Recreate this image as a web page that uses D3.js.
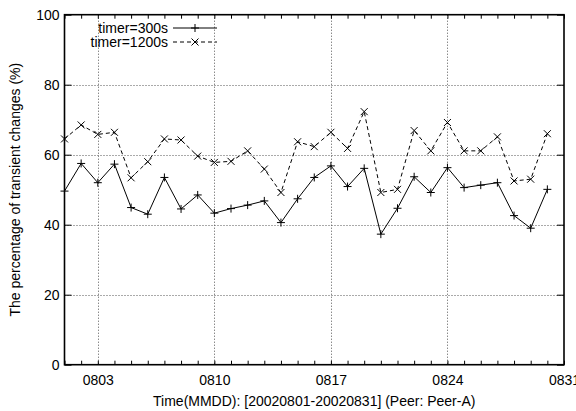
<!DOCTYPE html>
<html>
<head>
<meta charset="utf-8">
<script src="https://cdn.jsdelivr.net/npm/d3@7"></script>
<style>
  body { margin: 0; background: #fff; }
  text { font-family: "Liberation Sans", Arial, sans-serif; fill: #000; }
</style>
</head>
<body>
<div id="chart"></div>
<script>
// days of August 2002
let days = d3.range(1, 31);
let timer300 = [49.6, 57.5, 52.0, 57.3, 44.9, 43.0, 53.5, 44.5, 48.5, 43.3,
                44.6, 45.6, 46.8, 40.6, 47.4, 53.5, 56.8, 50.9, 56.1, 37.3,
                44.7, 53.7, 49.2, 56.3, 50.6, 51.3, 52.0, 42.6, 39.0, 50.1];
let timer1200 = [64.5, 68.5, 65.8, 66.4, 53.4, 58.0, 64.5, 64.2, 59.6, 57.8,
                 58.1, 61.1, 55.9, 49.2, 63.7, 62.3, 66.4, 61.8, 72.3, 49.2,
                 50.1, 66.9, 61.1, 69.2, 61.1, 61.1, 65.1, 52.5, 53.0, 66.0];
let xTicks = [3, 10, 17, 24, 31];
let xTickLabels = ["0803", "0810", "0817", "0824", "0831"];
let yTicks = [0, 20, 40, 60, 80, 100];

let width = 576, height = 411;
let pLeft = 64.5, pRight = 564, pTop = 14.7, pBottom = 364.7;
let fontSize = 14;

let svg = d3.select("#chart").append("svg")
    .attr("width", width)
    .attr("height", height);

let x = d3.scaleLinear().domain([1, 31]).range([pLeft, pRight]);
let y = d3.scaleLinear().domain([0, 100]).range([pBottom, pTop]);

//grid lines
let grid = svg.append("g")
    .attr("stroke", "#555")
    .attr("stroke-width", 1)
    .attr("stroke-dasharray", "1,2");
grid.selectAll(".gx")
    .data(xTicks.filter(d => d < 31))
    .join("line")
    .attr("x1", d => Math.round(x(d)) + 0.5).attr("x2", d => Math.round(x(d)) + 0.5)
    .attr("y1", pTop).attr("y2", pBottom);
grid.selectAll(".gy")
    .data(yTicks.filter(d => d > 0 && d < 100))
    .join("line")
    .attr("x1", pLeft).attr("x2", pRight)
    .attr("y1", d => Math.round(y(d)) + 0.5).attr("y2", d => Math.round(y(d)) + 0.5);

//axes, gnuplot style: ticks inward on every side
let minorDays = d3.range(1, 32);
svg.append("g")
    .attr("transform", `translate(0,${pBottom})`)
    .call(d3.axisBottom(x).tickValues(minorDays).tickSize(-4).tickFormat(""))
    .call(g => g.select(".domain").remove());
svg.append("g")
    .attr("transform", `translate(0,${pTop})`)
    .call(d3.axisTop(x).tickValues(minorDays).tickSize(-4).tickFormat(""))
    .call(g => g.select(".domain").remove());
svg.append("g")
    .attr("transform", `translate(0,${pBottom})`)
    .call(d3.axisBottom(x).tickValues(xTicks).tickSize(0).tickPadding(10)
        .tickFormat((d, i) => xTickLabels[i]))
    .call(g => g.select(".domain").remove())
    .call(g => g.selectAll("text").attr("font-size", fontSize).attr("font-family", "Liberation Sans, Arial, sans-serif"));
svg.append("g")
    .attr("transform", `translate(${pLeft},0)`)
    .call(d3.axisLeft(y).tickValues(yTicks).tickSize(-7).tickPadding(5))
    .call(g => g.select(".domain").remove())
    .call(g => g.selectAll("text").attr("font-size", fontSize).attr("font-family", "Liberation Sans, Arial, sans-serif"));
svg.append("g")
    .attr("transform", `translate(${pRight},0)`)
    .call(d3.axisRight(y).tickValues(yTicks).tickSize(-7).tickFormat(""))
    .call(g => g.select(".domain").remove());

//border
svg.append("rect")
    .attr("x", pLeft).attr("y", pTop)
    .attr("width", pRight - pLeft).attr("height", pBottom - pTop)
    .attr("fill", "none").attr("stroke", "#000").attr("stroke-width", 1.6);

//series
let series = [
    {name: "timer=300s", values: timer300, dash: null, mark: "plus"},
    {name: "timer=1200s", values: timer1200, dash: "4,3", mark: "cross"}
];

let line = d3.line().x((d, i) => x(days[i])).y(d => y(d));
let markPath = function (mark, s) {
    return mark == "plus"
        ? `M${-s},0H${s}M0,${-s}V${s}`
        : `M${-s},${-s}L${s},${s}M${-s},${s}L${s},${-s}`;
};

series.forEach(function (s) {
    svg.append("path")
        .attr("d", line(s.values))
        .attr("fill", "none")
        .attr("stroke", "#000")
        .attr("stroke-width", 1)
        .attr("stroke-dasharray", s.dash);
    svg.append("g").selectAll("path")
        .data(s.values)
        .join("path")
        .attr("transform", (d, i) => `translate(${x(days[i])},${y(d)})`)
        .attr("d", markPath(s.mark, s.mark == "plus" ? 4 : 3.5))
        .attr("stroke", "#000")
        .attr("stroke-width", 1)
        .attr("fill", "none");
});

//legend
let legend = svg.append("g");
series.forEach(function (s, i) {
    let ly = 28 + i * 14;
    legend.append("text")
        .attr("x", 168).attr("y", ly).attr("dy", "0.35em")
        .attr("text-anchor", "end")
        .attr("font-size", fontSize)
        .text(s.name);
    legend.append("line")
        .attr("x1", 173).attr("x2", 217)
        .attr("y1", ly).attr("y2", ly)
        .attr("stroke", "#000").attr("stroke-dasharray", s.dash);
    legend.append("path")
        .attr("transform", `translate(195,${ly})`)
        .attr("d", markPath(s.mark, s.mark == "plus" ? 4 : 3.5))
        .attr("stroke", "#000").attr("fill", "none");
});

//axis titles
svg.append("text")
    .attr("x", (pLeft + pRight) / 2).attr("y", 406)
    .attr("text-anchor", "middle")
    .attr("font-size", fontSize)
    .text("Time(MMDD): [20020801-20020831] (Peer: Peer-A)");
svg.append("text")
    .attr("transform", `translate(20,${(pTop + pBottom) / 2}) rotate(-90)`)
    .attr("text-anchor", "middle")
    .attr("font-size", fontSize)
    .text("The percentage of transient changes (%)");
</script>
</body>
</html>
